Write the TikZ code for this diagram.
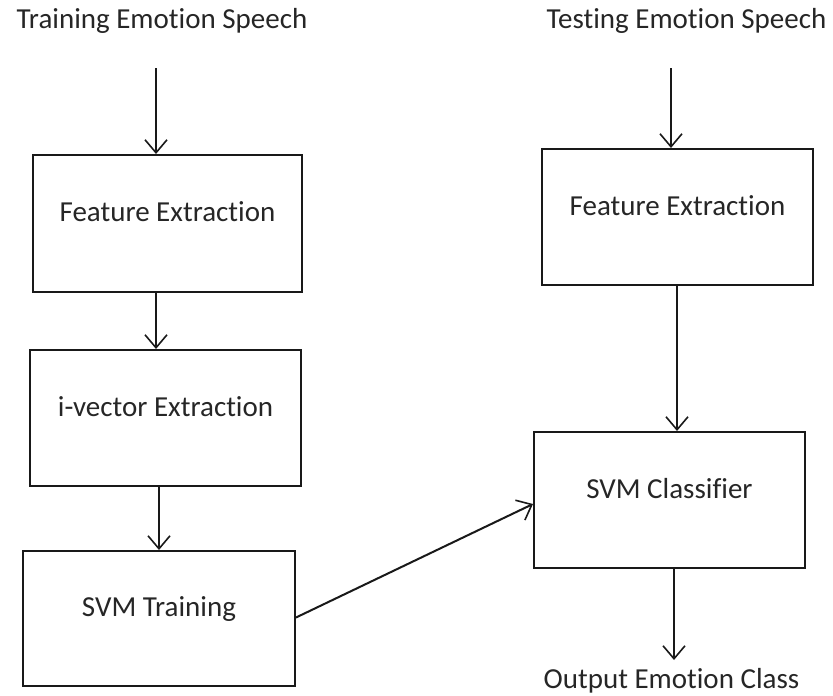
\documentclass[tikz,border=0pt]{standalone}
\usepackage{fontspec}
\setmainfont{Carlito}[Ligatures={NoCommon,NoContextual,NoRare}]
\usetikzlibrary{arrows.meta}
\begin{document}
\begin{tikzpicture}[x=1pt,y=-1pt,
  every node/.style={font=\fontsize{29}{32}\selectfont, text=black!85},
  box/.style={draw=black!90, line width=2pt, inner sep=0pt, text height=22pt, text depth=26pt},
  arr/.style={draw=black!90, line width=2pt, -{Straight Barb[length=13pt,width=22pt,line width=1.6pt]}},
  title/.style={anchor=base, inner sep=0pt}]
\useasboundingbox (0,0) rectangle (833,696);
% titles
\node[title] (ttrain) at (162,28) {Training Emotion Speech};
\node[title] (ttest) at (686.5,28) {Testing Emotion Speech};
\node[title] (tout) at (671.5,688) {Output Emotion Class};
% boxes
\node[box, minimum width=269pt, minimum height=137pt] (L1) at (167.5,223.5) {Feature Extraction};
\node[box, minimum width=271pt, minimum height=136pt] (L2) at (165.5,418) {i-vector Extraction};
\node[box, minimum width=272pt, minimum height=135pt] (L3) at (159,618.5) {SVM Training};
\node[box, minimum width=271pt, minimum height=136pt] (R1) at (677.5,217) {Feature Extraction};
\node[box, minimum width=271pt, minimum height=136pt] (R2) at (669.5,500) {SVM Classifier};
% connector ends
\coordinate (s1) at (156,68);
\coordinate (s2) at (671,68);
\coordinate (x2) at (159,0);
\coordinate (x4) at (677,0);
\coordinate (x5) at (674,0);
\coordinate (e5) at (674,660);
% connectors
\draw[arr] (s1) -- (s1 |- L1.north);
\draw[arr] (L1.south -| s1) -- (L2.north -| s1);
\draw[arr] (L2.south -| x2) -- (L3.north -| x2);
\draw[arr] (s2) -- (s2 |- R1.north);
\draw[arr] (R1.south -| x4) -- (R2.north -| x4);
\draw[arr] (R2.south -| x5) -- (e5);
\draw[arr] ([yshift=1pt]L3.east) -- ([yshift=-4pt]R2.west);
\end{tikzpicture}
\end{document}
